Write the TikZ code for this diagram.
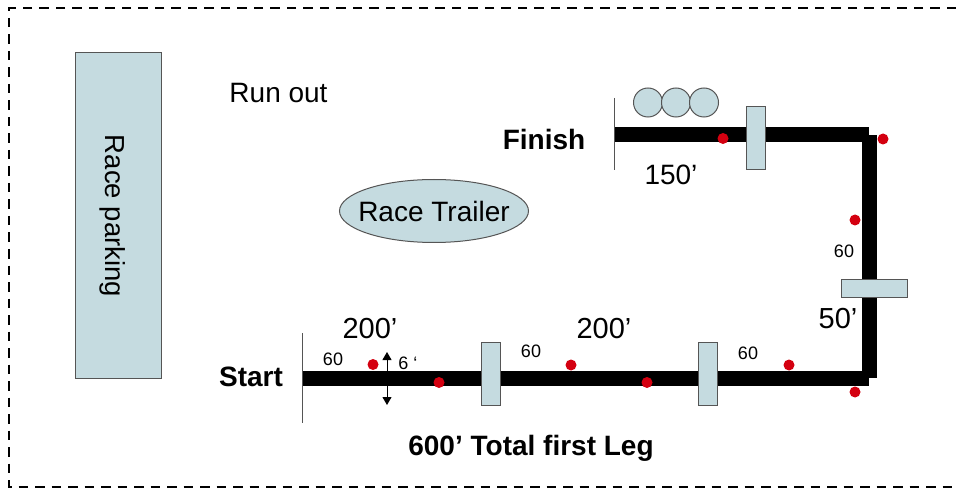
\documentclass[tikz,border=0pt]{standalone}
\usepackage{fontspec}
\setmainfont{Liberation Sans}
\usetikzlibrary{arrows.meta,shapes.geometric}
\definecolor{panel}{HTML}{C5DBE0}
\definecolor{edge}{HTML}{555555}
\definecolor{mark}{HTML}{D40010}
\tikzset{
  x=1pt,y=-1pt,
  block/.style={draw=edge,fill=panel,line width=1pt,inner sep=0pt,minimum width=#1},
  track/.style={line width=15pt,draw=black},
  post/.style={draw=edge,line width=1pt},
  reddot/.style={circle,fill=mark,inner sep=0pt,minimum size=11pt},
  ball/.style={circle,draw=edge,fill=panel,line width=1pt,minimum size=29pt,inner sep=0pt},
  dimarrow/.style={-{Triangle[length=8pt,width=9pt]},line width=1pt},
  lab/.style={inner sep=0pt,text=black},
  txtA/.style={lab,font=\fontsize{28}{30}\selectfont},
  txtD/.style={lab,font=\fontsize{29}{30}\selectfont},
  txtB/.style={lab,font=\fontsize{18}{20}\selectfont},
  txtC/.style={lab,font=\fontsize{28}{30}\selectfont\bfseries},
}
\begin{document}
\begin{tikzpicture}
\useasboundingbox (0,0) rectangle (956,489);
\fill[white] (0,0) rectangle (956,489);
\coordinate (fa) at (956,8);
\coordinate (fb) at (9,8);
\coordinate (fc) at (9,487);
\coordinate (fd) at (956,487);
\draw[dash pattern=on 9.5pt off 7pt,line width=2.4pt] (fa) -- (fb) -- (fc) -- (fd);
\node[block=86pt,minimum height=325pt] (parking) at (118,215.5) {};
\node[lab,rotate=-90,font=\fontsize{27.5}{30}\selectfont] (parkingt) at (113,216) {Race parking};
\node[txtA] (runout) at (278.5,93) {Run out};
\node[ellipse,draw=edge,fill=panel,line width=1pt,minimum width=189pt,minimum height=63pt,inner sep=0pt] (trailer) at (434,211) {};
\node[txtA] at (434,211) {Race Trailer};
\coordinate (t0) at (302,378.5);
\coordinate (t1) at (869,378.5);
\coordinate (t2) at (869.5,135);
\coordinate (t2b) at (869.5,377.7);
\coordinate (t3) at (614,134.5);
\coordinate (t4) at (869,134.5);
\draw[track] (t0) -- (t1);
\draw[track] (t2b) -- (t2);
\draw[track] (t4) -- (t3);
\coordinate (sa) at (302,333);
\coordinate (sb) at (302,423);
\draw[post] (sa) -- (sb);
\coordinate (fa2) at (614,98);
\coordinate (fb2) at (614,170);
\draw[post] (fa2) -- (fb2);
\node[block=19pt,minimum height=63pt] (g1) at (491,373.5) {};
\node[block=19pt,minimum height=63pt] (g2) at (708,373.5) {};
\node[block=19pt,minimum height=63pt] (g3) at (756,138.5) {};
\node[block=66pt,minimum height=18pt] (g4) at (874,288) {};
\node[ball] (c1) at (648,102.5) {};
\node[ball] (c2) at (676,102.5) {};
\node[ball] (c3) at (704,102.5) {};
\node[reddot] (r1) at (373,364.5) {};
\node[reddot] (r2) at (439,382.5) {};
\node[reddot] (r3) at (571,365) {};
\node[reddot] (r4) at (647,382.5) {};
\node[reddot] (r5) at (789,365) {};
\node[reddot] (r6) at (855,392) {};
\node[reddot] (r7) at (855,220) {};
\node[reddot] (r8) at (883,139) {};
\node[reddot] (r9) at (723,138.5) {};
\coordinate (a0) at (387,352);
\coordinate (a1) at (387,405);
\coordinate (am) at (387,378);
\draw[dimarrow] (am) -- (a0);
\draw[dimarrow] (am) -- (a1);
\node[txtD] at (370,329) {200’};
\node[txtD] at (604,329) {200’};
\node[txtA] at (671,175) {150’};
\node[txtD] at (838,319) {50’};
\node[txtB] at (333,359) {60};
\node[txtB] at (531,351) {60};
\node[txtB] at (748,353) {60};
\node[txtB] at (844,251) {60};
\node[txtB] at (408,363) {6 ‘};
\node[txtC] at (251,377) {Start};
\node[txtC] at (544,139) {Finish};
\node[txtC] at (531,448) {600’ Total first Leg};
\end{tikzpicture}
\end{document}
